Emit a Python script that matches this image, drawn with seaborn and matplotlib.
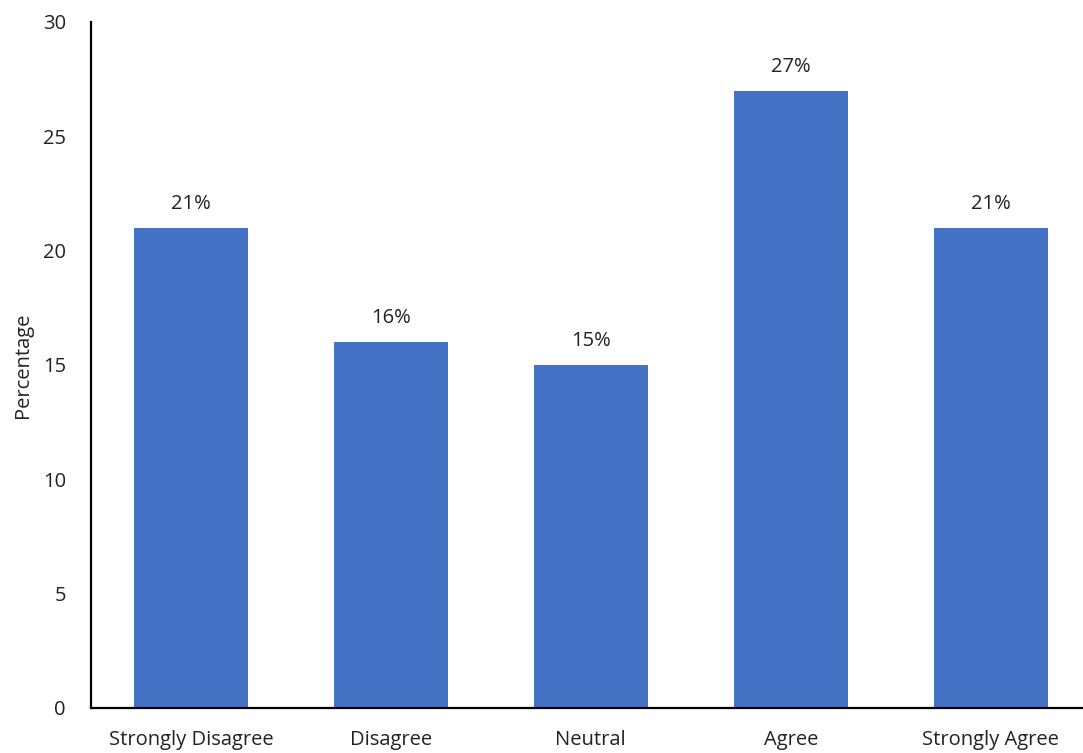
import matplotlib
matplotlib.use("Agg")
import matplotlib.pyplot as plt
import seaborn as sns
import pandas as pd

categories = ["Strongly Disagree", "Disagree", "Neutral", "Agree", "Strongly Agree"]
percentages = [21, 16, 15, 27, 21]
yticks = [0, 5, 10, 15, 20, 25, 30]

sns.set_theme(style="white")
plt.rcParams["font.family"] = ["Open Sans", "DejaVu Sans"]

df = pd.DataFrame({"Response": categories, "Percentage": percentages})

fig = plt.figure(figsize=(10.83, 7.53), dpi=100)
ax = fig.add_axes([0.084, 0.0598, 0.923, 0.911])

sns.barplot(data=df, x="Response", y="Percentage", color="#4472C4",
            saturation=1, width=0.57, linewidth=0, ax=ax)

for i, v in enumerate(percentages):
    ax.text(i, v + 0.6, f"{v}%", ha="center", va="bottom", fontsize=14.5, color="#222222")

ax.set_xlim(-0.5, 4.5)
ax.set_ylim(0, 30)
ax.set_yticks(yticks)
ax.set_yticklabels([str(t) for t in yticks])
ax.tick_params(axis="both", length=0, labelsize=14.5, colors="#222222")
ax.tick_params(axis="y", pad=18)
ax.tick_params(axis="x", pad=16)
ax.set_xlabel("")
ax.set_ylabel("Percentage", fontsize=14.5, color="#222222", labelpad=7)

for side in ["top", "right"]:
    ax.spines[side].set_visible(False)
for side in ["left", "bottom"]:
    ax.spines[side].set_color("black")
    ax.spines[side].set_linewidth(1.6)

fig.savefig("out.png", dpi=100)
